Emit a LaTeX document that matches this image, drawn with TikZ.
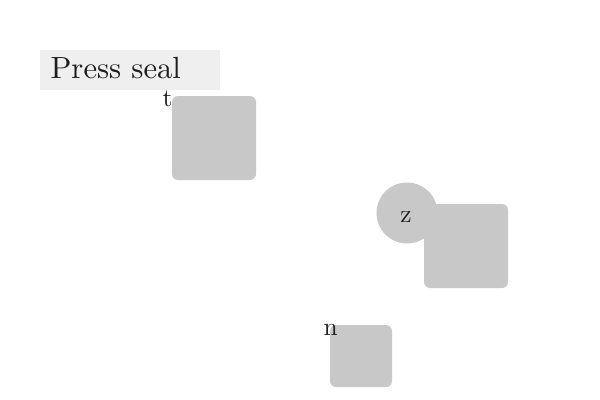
\documentclass[tikz,border=0pt]{standalone}
\usepackage{tikz}
\usetikzlibrary{calc,positioning}
\definecolor{blockgray}{HTML}{C8C8C8}
\definecolor{bannergray}{HTML}{EFEFEF}
\definecolor{inkgray}{HTML}{1E1E1E}
\tikzstyle{block}=[fill=blockgray, rounded corners=4.5pt, draw=none]
\tikzstyle{tag}=[inner sep=0pt, text=inkgray, scale=1.9, transform shape=false]

\begin{document}
\begin{tikzpicture}[x=0.75pt, y=-0.75pt]
\useasboundingbox (0,0) rectangle (600,400);

% banner
\fill[bannergray] (40,50) rectangle (220,90);
\node[tag, anchor=base west, scale=1.21] (title) at (50,78) {Press seal};

% blocks
\fill[block] (172,96) rectangle (256,180);
\coordinate (tblock) at (172,96);
\fill[blockgray] (407,213) circle (30.5);
\coordinate (zcirc) at (407,213);
\fill[block] (424,204) rectangle (508,288);
\fill[block] (330,325) rectangle (392,387);
\coordinate (nblock) at (330,325);

% labels
\node[tag, anchor=base east] (tlabel) at ($(tblock)+(1,10)$) {t};
\node[tag, anchor=base] (zlabel) at ($(zcirc)+(-1,9)$) {z};
\node[tag, anchor=base west] (nlabel) at ($(nblock)+(-7,10)$) {n};

\end{tikzpicture}
\end{document}
